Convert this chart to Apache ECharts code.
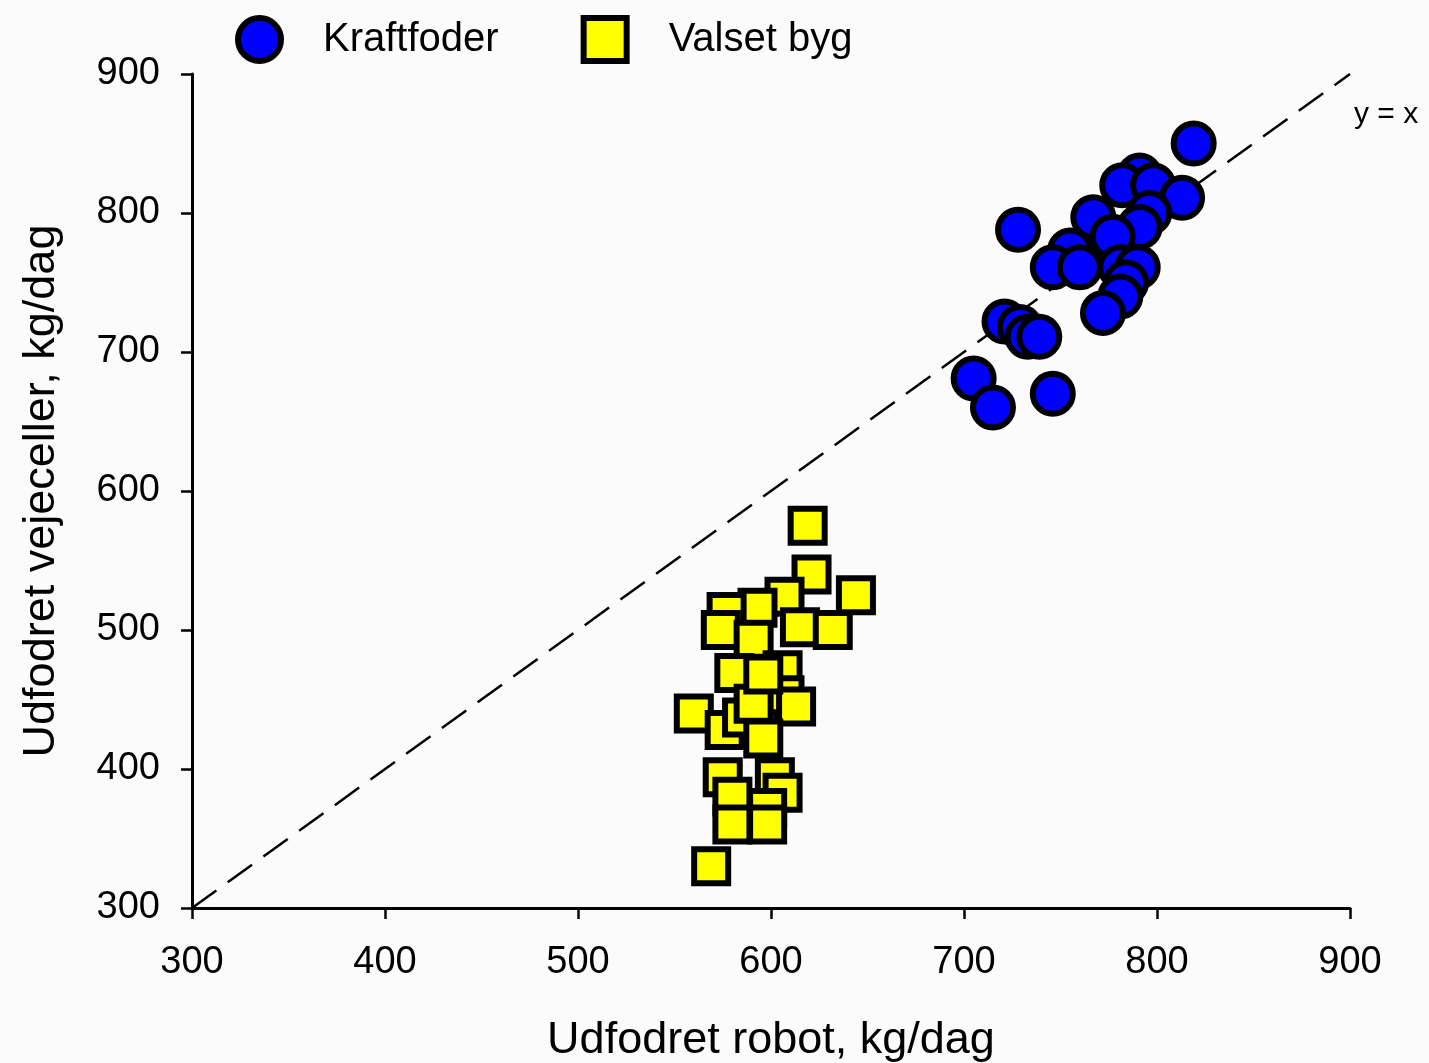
<!DOCTYPE html>
<html>
<head>
<meta charset="utf-8">
<script src="https://cdn.jsdelivr.net/npm/echarts@6/dist/echarts.min.js"></script>
<style>
  html, body { margin: 0; padding: 0; background: #fbfbfb; }
  #chart { width: 1429px; height: 1063px; }
</style>
</head>
<body>
<div id="chart"></div>
<script>
// Concentrate: robot-dispensed vs. weigh-cell measured (kg/day)
const kraftfoderRobot = [776, 819, 728, 791, 782, 798, 813, 767, 796, 791, 777, 755, 746, 760,
  781, 790, 784, 781, 772, 721, 729, 733, 739, 705, 715, 746];
const kraftfoderVejeceller = [771, 850, 788, 827, 820, 820, 811, 797, 800, 790, 783, 773, 761, 761,
  761, 761, 750, 740, 728, 722, 718, 711, 711, 681, 660, 670];

// Rolled barley: robot-dispensed vs. weigh-cell measured (kg/day)
const valsetBygRobot = [599, 594, 619, 621, 644, 607, 593, 577, 574, 615, 632, 591, 581, 606,
  607, 613, 560, 576, 585, 591, 596, 596, 575, 602, 606, 580, 580, 598, 598, 569];
const valsetBygVejeceller = [457, 435, 575, 540, 525, 524, 516, 513, 500, 502, 500, 493, 469, 471,
  453, 445, 440, 428, 437, 447, 422, 468, 394, 394, 383, 380, 360, 372, 360, 330];

// Reference line y = x
const refLine = [300, 900];

const axisTicks = { min: 300, max: 900, interval: 100 };

const seriesNames = ['Kraftfoder', 'Valset byg'];

const FONT = '"Liberation Sans", Arial, sans-serif';

const zip = (xs, ys) => xs.map((x, i) => [x, ys[i]]);

const chart = echarts.init(document.getElementById('chart'));

const axisCommon = {
  type: 'value',
  min: axisTicks.min,
  max: axisTicks.max,
  interval: axisTicks.interval,
  nameLocation: 'middle',
  nameTextStyle: { fontFamily: FONT, fontSize: 45, color: '#000' },
  axisLine: { show: true, onZero: false, lineStyle: { color: '#000', width: 3 } },
  axisTick: { show: true, inside: false, length: 11, lineStyle: { color: '#000', width: 2.5 } },
  axisLabel: { fontFamily: FONT, fontSize: 38, color: '#000' },
  splitLine: { show: false }
};

chart.setOption({
  backgroundColor: '#fbfbfb',
  animation: false,
  grid: {
    left: 192, right: 79, top: 74, bottom: 155,
    containLabel: false,
    outerBoundsMode: 'none'
  },
  legend: {
    top: 10,
    left: 230,
    itemGap: 82,
    itemWidth: 43,
    itemHeight: 43,
    textStyle: { fontFamily: FONT, fontSize: 40, color: '#000', padding: [0, 0, 0, 37] },
    data: [
      { name: seriesNames[0], icon: 'circle',
        itemStyle: { color: '#0000ff', borderColor: '#000', borderWidth: 6 } },
      { name: seriesNames[1], icon: 'rect',
        itemStyle: { color: '#ffff00', borderColor: '#000', borderWidth: 6 } }
    ]
  },
  xAxis: Object.assign({}, axisCommon, {
    name: 'Udfodret robot, kg/dag',
    nameGap: 110,
    axisLabel: Object.assign({}, axisCommon.axisLabel, { margin: 36 })
  }),
  yAxis: Object.assign({}, axisCommon, {
    name: 'Udfodret vejeceller, kg/dag',
    nameGap: 128,
    axisLabel: Object.assign({}, axisCommon.axisLabel, { margin: 32 })
  }),
  graphic: [{
    type: 'text',
    left: 1354,
    top: 100,
    style: { text: 'y = x', fontFamily: FONT, fontSize: 30, fill: '#000' }
  }],
  series: [
    {
      name: 'y = x',
      type: 'line',
      data: zip(refLine, refLine),
      symbol: 'none',
      silent: true,
      lineStyle: { color: '#000', width: 2.5, type: [30, 14] },
      z: 1
    },
    {
      name: seriesNames[0],
      type: 'scatter',
      data: zip(kraftfoderRobot, kraftfoderVejeceller),
      symbol: 'circle',
      symbolSize: 40,
      itemStyle: { color: '#0000ff', borderColor: '#000', borderWidth: 6, opacity: 1 },
      z: 3
    },
    {
      name: seriesNames[1],
      type: 'scatter',
      data: zip(valsetBygRobot, valsetBygVejeceller),
      symbol: 'rect',
      symbolSize: 34,
      itemStyle: { color: '#ffff00', borderColor: '#000', borderWidth: 6, opacity: 1 },
      z: 3
    }
  ]
});
</script>
</body>
</html>
